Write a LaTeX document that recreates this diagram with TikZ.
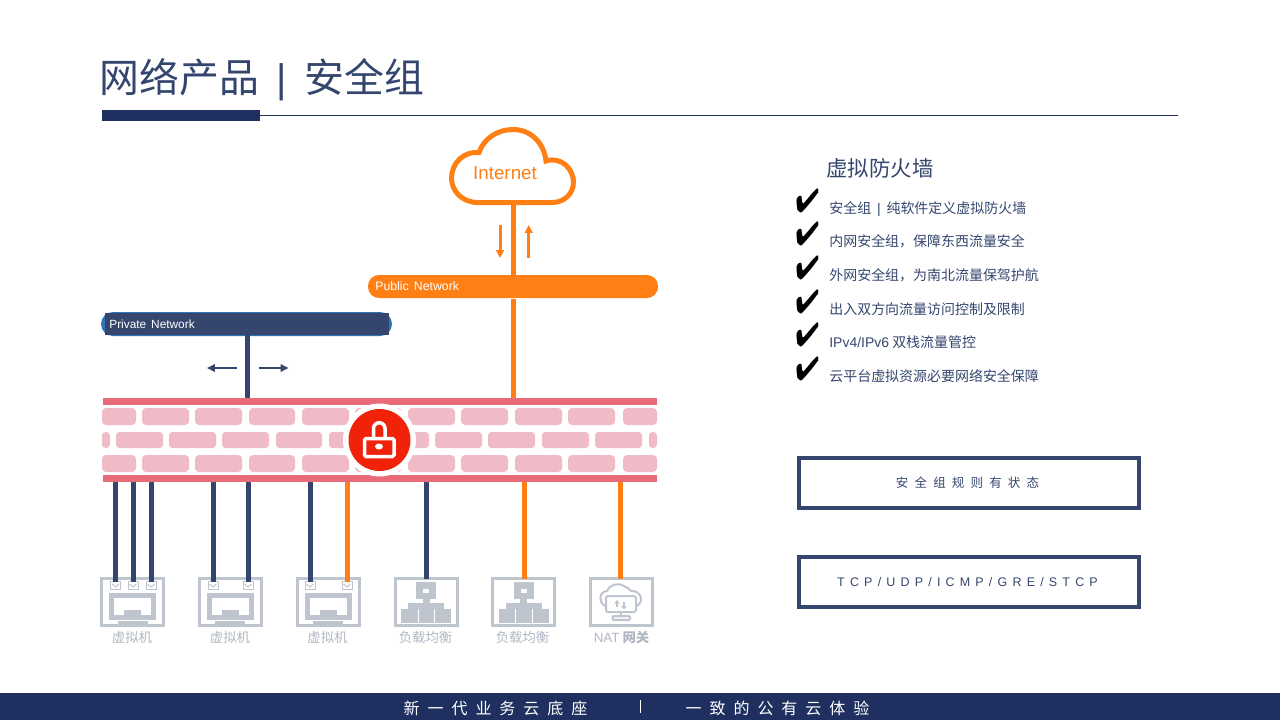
\documentclass[tikz,border=0pt]{standalone}
\usepackage{fontspec}
\usepackage{pifont}
\setmainfont{Noto Sans CJK SC}
\newfontfamily\lat{Liberation Sans}
\newfontfamily\spaced[WordSpace=2.22]{Noto Sans CJK SC}
\newfontfamily\spacedlat[WordSpace=1.5]{Liberation Sans}
\usepackage{xcolor}
\usetikzlibrary{arrows.meta,positioning,calc}
\definecolor{navy}{HTML}{34466E}
\definecolor{deep}{HTML}{1F3060}
\definecolor{orange}{HTML}{FF7F14}
\definecolor{edgeblue}{HTML}{2E75B6}
\definecolor{wallred}{HTML}{E96A78}
\definecolor{brick}{HTML}{EFBBC6}
\definecolor{lockred}{HTML}{F1220A}
\definecolor{icongray}{HTML}{BFC5CF}
\definecolor{labelgray}{HTML}{B0B6C2}
\newcommand{\px}{0.02cm}
\newcommand{\fs}[1]{\fontsize{#1}{#1}\selectfont}

\begin{document}
\begin{tikzpicture}[x=0.02cm, y=-0.02cm,
  bar/.style={inner sep=0pt, outer sep=0pt},
  wall/.style={bar, fill=wallred, minimum width=554*\px, minimum height=7*\px},
  iconbox/.style={draw=icongray, line width=3*\px, inner sep=0pt, outer sep=0pt,
    minimum width=62*\px, minimum height=47*\px},
  port/.style={draw=icongray, line width=1*\px, inner sep=0pt, outer sep=0pt,
    minimum width=10*\px, minimum height=8*\px},
  iconlabel/.style={text=labelgray, font=\fs{7.6}},
  item/.style={anchor=base west, inner sep=0pt, text=navy, font=\fs{7.95}},
  tick/.style={inner sep=0pt, text=black, font=\fs{19}, xscale=0.84, transform shape},
  rulebox/.style={draw=navy, line width=4*\px, inner sep=0pt, outer sep=0pt,
    minimum width=340*\px, minimum height=50*\px},
  privline/.style={draw=navy, line width=5*\px},
  publine/.style={draw=orange, line width=5*\px},
  flowpub/.style={draw=orange, line width=3*\px, -{Triangle[length=4.5pt,width=4.4pt]}},
  flowpriv/.style={draw=navy, line width=2.7*\px, -{Triangle[length=4.5pt,width=4.2pt]}},
]
  \useasboundingbox (0,0) rectangle (1280,720);

  % Header
  \node[anchor=base west, inner sep=0pt, text=navy, font=\fs{22.7}] (title) at (99,92) {网络产品~~{\lat |}~~安全组};
  \node[bar, fill=deep, minimum width=158*\px, minimum height=11*\px] (titlebar) at (181,115.5) {};
  \coordinate (ruleend) at (1178,115.5);
  \draw[deep, line width=1*\px] (titlebar.east) -- (ruleend);

  % Internet cloud
  \draw[orange, line width=5*\px, fill=white]
    (478,202.5) .. controls (462,202.5) and (451.5,191) .. (451.5,178)
    .. controls (451.5,163) and (464,151) .. (479,152.5)
    .. controls (484,138) and (498,129.5) .. (513,129.5)
    .. controls (531,129.5) and (544,143) .. (546,161)
    .. controls (561,156) and (573.5,169) .. (573.5,182)
    .. controls (573.5,194) and (564,202.5) .. (552,202.5) -- cycle;
  \coordinate (cloudbase) at (513.5,205);
  \node[inner sep=0pt, text=orange, font=\lat\fs{10.7}] (internet) at (505,173.5) {Internet};

  % Networks
  \node[bar, fill=orange, rounded corners=11*\px, minimum width=290*\px, minimum height=23*\px] (pub) at (513,286.5) {};
  \node[anchor=west, inner sep=0pt, text=white, font=\lat\fs{7}] (publabel) at (375,286) {Public Network};
  \node[bar, fill=edgeblue, rounded corners=12*\px, minimum width=291*\px, minimum height=24*\px] (privback) at (246.5,324) {};
  \node[bar, fill=navy, minimum width=284*\px, minimum height=22*\px] (priv) at (247,324) {};
  \node[anchor=west, inner sep=0pt, text=white, font=\lat\fs{6.75}] (privlabel) at (109,324) {Private Network};

  % Firewall
  \node[wall] (walltop) at (380,401.5) {};
  \node[wall] (wallbot) at (380,478.5) {};
  \foreach \a/\b in {102/136,142/189,195/242,249/295,302/349,355/402,408/455,461/508,515/562,568/615,623/657}{
    \fill[brick, rounded corners=4*\px] (\a,408) rectangle (\b,425);
    \fill[brick, rounded corners=4*\px] (\a,455) rectangle (\b,472);
  }
  \foreach \a/\b in {102/110,116/163,169/216,222/269,276/322,329/376,383/429,435/482,488/535,542/589,595/642,649/657}
    \fill[brick, rounded corners=3.5*\px] (\a,432) rectangle (\b,448);
  \node[circle, fill=white, inner sep=0pt, minimum size=73*\px] (lockring) at (379.5,440) {};
  \node[circle, fill=lockred, inner sep=0pt, minimum size=62*\px] (lock) at (379.5,440) {};
  \draw[white, line width=3.5*\px, rounded corners=1.5*\px] (364.5,438.5) rectangle (394,456.5);
  \draw[white, line width=3.5*\px] (373.5,438.5) -- (373.5,428.5) arc[start angle=180, end angle=0, x radius=5.75, y radius=-5.75] -- (385,438.5);
  \fill[white] (379,446.5) ellipse[x radius=4, y radius=3];

  % Uplinks
  \draw[publine] (cloudbase) -- (pub.north -| cloudbase);
  \draw[publine] (pub.south -| cloudbase) ++(0,1) -- (walltop.north -| cloudbase);
  \draw[privline] (priv.south) -- (walltop.north -| priv.south);

  % Flow arrows
  \coordinate (pubdowna) at (500,225); \coordinate (pubdownb) at (500,258);
  \coordinate (pubupa) at (528.7,258); \coordinate (pubupb) at (528.7,225);
  \coordinate (privlefta) at (237,368); \coordinate (privleftb) at (207,368);
  \coordinate (privrighta) at (258.5,368); \coordinate (privrightb) at (288.5,368);
  \draw[flowpub] (pubdowna) -- (pubdownb);
  \draw[flowpub] (pubupa) -- (pubupb);
  \draw[flowpriv] (privlefta) -- (privleftb);
  \draw[flowpriv] (privrighta) -- (privrightb);

  % Icon frames
  \foreach \n/\cx in {vma/132.5,vmb/230,vmc/328,lba/426,lbb/523.5,nat/621}
    \node[iconbox] (\n) at (\cx,602) {};
  \coordinate (lbbin) at (524,578.5);
  \coordinate (natin) at (620,578.5);

  % Monitors
  \foreach \cx in {132.5,230,328}{
    \fill[icongray] (\cx-23.5,593) rectangle (\cx+23.5,620);
    \fill[white] (\cx-18.5,598) rectangle (\cx+18.5,615);
    \fill[icongray] (\cx-8.5,610) rectangle (\cx+8.5,620);
    \fill[icongray] (\cx-15,621) rectangle (\cx+15,625);
  }
  % Ports
  \foreach \n/\cx in {pa/115.5,pb/133,pc/151,pd/213,pe/248,pf/310,pg/347}{
    \node[port] (\n) at (\cx,585.5) {};
    \draw[icongray, line width=1*\px] (\n.north west) ++(1.5,2.5) -- ++(3.5,3) -- ++(3.5,-3);
  }

  % Balancers
  \foreach \cx in {426,523.5}{
    \fill[icongray] (\cx-10,582) rectangle (\cx+10,599);
    \fill[white] (\cx-3,589) rectangle (\cx+3,593);
    \fill[icongray] (\cx-3.5,599) rectangle (\cx+3.5,604);
    \fill[icongray] (\cx-18,603) rectangle (\cx+18,609);
    \fill[icongray] (\cx-25,609) rectangle (\cx+25,623);
    \fill[white] (\cx-8.5,609) rectangle (\cx-7.5,623);
    \fill[white] (\cx+8,609) rectangle (\cx+9,623);
  }

  % NAT icon
  \draw[icongray, line width=2*\px]
    (605,606) .. controls (599,603) and (598,592) .. (607,591)
    .. controls (609,585) and (618,582) .. (624,586)
    .. controls (627,587) and (629,589) .. (631,591)
    .. controls (640,590) and (645,601) .. (637,606);
  \draw[icongray, line width=2*\px, fill=white, rounded corners=1.5*\px] (606,596) rectangle (636,612);
  \draw[icongray, line width=2*\px] (621,612) -- (621,616);
  \draw[icongray, line width=2*\px, fill=white!80!icongray, rounded corners=1*\px] (612.5,616) rectangle (630,620);
  \coordinate (natupa) at (617,607); \coordinate (natupb) at (617,600);
  \coordinate (natdowna) at (624,602); \coordinate (natdownb) at (624,609.5);
  \draw[icongray, line width=1.8*\px, -{Triangle[length=2pt,width=3pt]}] (natupa) -- (natupb);
  \draw[icongray, line width=1.8*\px, -{Triangle[length=2pt,width=3pt]}] (natdowna) -- (natdownb);

  % Downlinks
  \draw[privline] (wallbot.south -| pa) -- (pa.north);
  \draw[privline] (wallbot.south -| pb) -- (pb.north);
  \draw[privline] (wallbot.south -| pc) -- (pc.north);
  \draw[privline] (wallbot.south -| pd) -- (pd.north);
  \draw[privline] (wallbot.south -| pe) -- (pe.north);
  \draw[privline] (wallbot.south -| pf) -- (pf.north);
  \draw[publine] (wallbot.south -| pg) -- (pg.north);
  \draw[privline] (wallbot.south -| lba) -- (lba.north);
  \draw[publine] (wallbot.south -| lbbin) -- (lbbin);
  \draw[publine] (wallbot.south -| natin) -- (natin);

  % Icon labels
  \node[iconlabel] (vmatext) at (132,637.5) {虚拟机};
  \node[iconlabel] (vmbtext) at (230,637.5) {虚拟机};
  \node[iconlabel] (vmctext) at (327.5,637.5) {虚拟机};
  \node[iconlabel] (lbatext) at (425.5,637.5) {负载均衡};
  \node[iconlabel] (lbbtext) at (522.5,637.5) {负载均衡};
  \node[iconlabel] (nattext) at (621.5,637.5) {{\lat NAT} {\bfseries 网关}};

  % Feature list
  \node[anchor=west, inner sep=0pt, text=navy, font=\fs{12.2}] (listhead) at (826,168.5) {虚拟防火墙};
  \node[item] (itema) at (829,213.5) {安全组{\lat~|~}纯软件定义虚拟防火墙};
  \node[item] (itemb) at (829,246.5) {内网安全组，保障东西流量安全};
  \node[item] (itemc) at (829,280.5) {外网安全组，为南北流量保驾护航};
  \node[item] (itemd) at (829,314.5) {出入双方向流量访问控制及限制};
  \node[item] (iteme) at (829,347.5) {{\lat IPv4/IPv6} 双栈流量管控};
  \node[item] (itemf) at (829,381.5) {云平台虚拟资源必要网络安全保障};
  \foreach \n/\y in {a/201,b/234,c/268,d/302,e/335,f/369}
    \node[tick] (tick\n) at (807.5,\y) {\ding{52}};

  % Rule boxes
  \node[rulebox] (boxstate) at (969,483) {};
  \node[inner sep=0pt, text=navy, font=\spaced\fs{7.1}] (statetext) at (967.5,483) {安 全 组 规 则 有 状 态};
  \node[rulebox] (boxproto) at (969,582) {};
  \node[inner sep=0pt, text=navy, font=\spacedlat\fs{7.1}] (prototext) at (967.5,582) {T C P / U D P / I C M P / G R E / S T C P};

  % Footer
  \node[bar, fill=deep, minimum width=1280*\px, minimum height=27*\px] (footer) at (640,706.5) {};
  \node[inner sep=0pt, text=white, font=\spaced\fs{9.1}] (slogana) at (495.5,708) {新 一 代 业 务 云 底 座};
  \node[inner sep=0pt, text=white, font=\spaced\fs{9.1}] (sloganb) at (777.5,708) {一 致 的 公 有 云 体 验};
  \node[bar, fill=white, minimum width=1*\px, minimum height=13*\px] (footsep) at (640.5,706.5) {};
\end{tikzpicture}
\end{document}
